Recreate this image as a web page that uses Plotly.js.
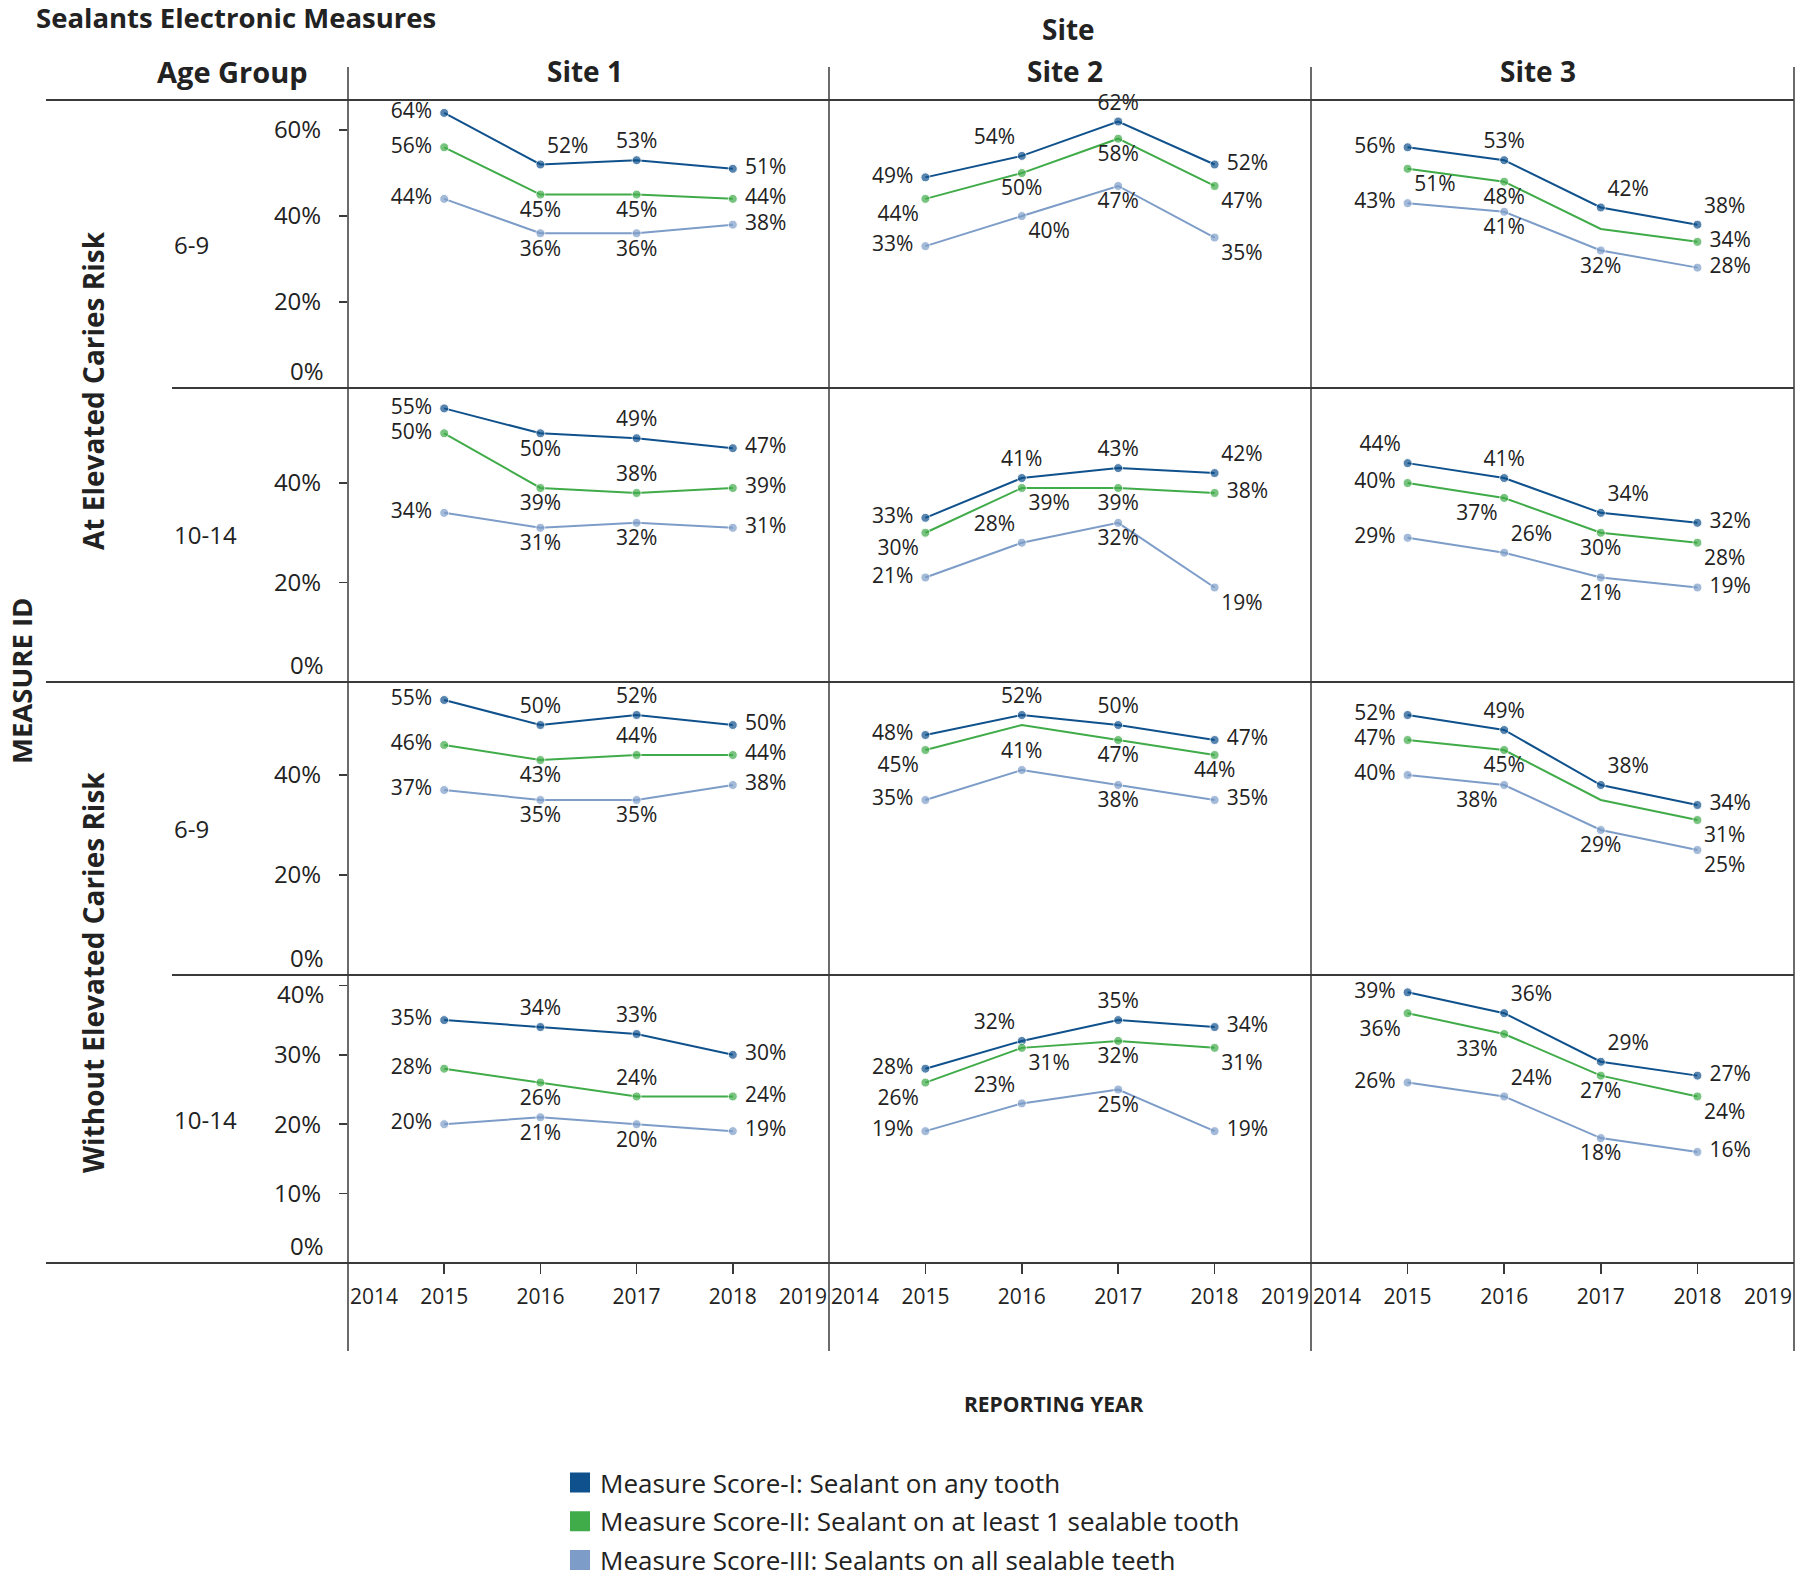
<!DOCTYPE html>
<html>
<head>
<meta charset="utf-8">
<script src="https://cdn.plot.ly/plotly-3.0.1.min.js"></script>
<style>html,body{margin:0;padding:0;background:#fff;overflow:hidden;}</style>
</head>
<body>
<div id="chart" style="width:1800px;height:1578px;"></div>
<script>
// ---------------- DATA ----------------
const years = [2015, 2016, 2017, 2018];
const edgeYears = [2014, 2019];
const sites = ['Site 1', 'Site 2', 'Site 3'];
const riskGroups = ['At Elevated Caries Risk', 'Without Elevated Caries Risk'];
const ageGroups = ['6-9', '10-14'];
const scoreNames = [
  'Measure Score-I: Sealant on any tooth',
  'Measure Score-II: Sealant on at least 1 sealable tooth',
  'Measure Score-III: Sealants on all sealable teeth'
];

// each array: [Site 1, Site 2, Site 3], values per year 2015..2018 (percent)
const scoreI_elev_6_9     = [[64, 52, 53, 51], [49, 54, 62, 52], [56, 53, 42, 38]];
const scoreII_elev_6_9    = [[56, 45, 45, 44], [44, 50, 58, 47], [51, 48, 37, 34]];
const scoreIII_elev_6_9   = [[44, 36, 36, 38], [33, 40, 47, 35], [43, 41, 32, 28]];

const scoreI_elev_10_14   = [[55, 50, 49, 47], [33, 41, 43, 42], [44, 41, 34, 32]];
const scoreII_elev_10_14  = [[50, 39, 38, 39], [30, 39, 39, 38], [40, 37, 30, 28]];
const scoreIII_elev_10_14 = [[34, 31, 32, 31], [21, 28, 32, 19], [29, 26, 21, 19]];

const scoreI_noelev_6_9     = [[55, 50, 52, 50], [48, 52, 50, 47], [52, 49, 38, 34]];
const scoreII_noelev_6_9    = [[46, 43, 44, 44], [45, 50, 47, 44], [47, 45, 35, 31]];
const scoreIII_noelev_6_9   = [[37, 35, 35, 38], [35, 41, 38, 35], [40, 38, 29, 25]];

const scoreI_noelev_10_14   = [[35, 34, 33, 30], [28, 32, 35, 34], [39, 36, 29, 27]];
const scoreII_noelev_10_14  = [[28, 26, 24, 24], [26, 31, 32, 31], [36, 33, 27, 24]];
const scoreIII_noelev_10_14 = [[20, 21, 20, 19], [19, 23, 25, 19], [26, 24, 18, 16]];

const yTickValues = [[20, 40, 60], [20, 40], [20, 40], [10, 20, 30, 40]];

// ---------------- PRESENTATION ----------------
const panelRows = [
  [scoreI_elev_6_9, scoreII_elev_6_9, scoreIII_elev_6_9],
  [scoreI_elev_10_14, scoreII_elev_10_14, scoreIII_elev_10_14],
  [scoreI_noelev_6_9, scoreII_noelev_6_9, scoreIII_noelev_6_9],
  [scoreI_noelev_10_14, scoreII_noelev_10_14, scoreIII_noelev_10_14]
];
// label placement per row -> site -> score -> year ('-' = no label / no marker)
const labelPos = [
  [
    [['L','TR','T','R'], ['L','B','B','R'], ['L','B','B','R']],
    [['L','TL','T','R'], ['BL','B','B','BR'], ['L','BR','B','BR']],
    [['L','T','TR','TR'], ['BR','B','-','R'], ['L','B','B','R']]
  ],
  [
    [['L','B','T','R'], ['L','B','T','R'], ['L','B','B','R']],
    [['L','T','T','TR'], ['BL','BR','B','R'], ['L','TL','B','BR']],
    [['TL','T','TR','R'], ['L','BL','B','BR'], ['L','TR','B','R']]
  ],
  [
    [['L','T','T','R'], ['L','B','T','R'], ['L','B','B','R']],
    [['L','T','T','R'], ['BL','-','B','B'], ['L','T','B','R']],
    [['L','T','TR','R'], ['L','B','-','BR'], ['L','BL','B','BR']]
  ],
  [
    [['L','T','T','R'], ['L','B','T','R'], ['L','B','B','R']],
    [['L','TL','T','R'], ['BL','BR','B','BR'], ['L','TL','B','R']],
    [['L','TR','TR','R'], ['BL','BL','B','BR'], ['L','TR','B','R']]
  ]
];
const posMap = {L:'middle left', R:'middle right', T:'top center', B:'bottom center',
  TL:'top left', TR:'top right', BL:'bottom left', BR:'bottom right', '-':'middle center'};

const colors = ['#0f518c', '#40ab49', '#7d9dc8'];
const FONT = 'Open Sans, Noto Sans, sans-serif';
const TXT = '#222222';
const LINEC = '#3a3a3a';

const W = 1800, H = 1578;
const colEdges = [348, 829, 1311, 1794];
const rowEdges = [100, 388, 682, 975, 1263];
const yMax = [67, 59.1, 58.6, 41.5];
// the top tick label of the last row sits at the panel edge: it is drawn nudged inward
const edgeTickRow = 3;
const edgeTickValue = 40;
const fx = x => x / W;
const fy = y => 1 - y / H;
const sfx = i => (i === 1 ? '' : String(i));

const traces = [];
const layout = {
  width: W, height: H,
  margin: {l: 0, r: 0, t: 0, b: 0, pad: 0, autoexpand: false},
  paper_bgcolor: '#ffffff', plot_bgcolor: 'rgba(0,0,0,0)',
  font: {family: FONT, color: TXT, size: 21},
  showlegend: true,
  legend: {
    x: fx(560), xanchor: 'left', y: fy(1459), yanchor: 'top',
    font: {family: FONT, size: 26, color: TXT},
    traceorder: 'grouped', tracegroupgap: 2,
    bgcolor: 'rgba(0,0,0,0)', itemclick: false, itemdoubleclick: false
  },
  annotations: [],
  shapes: []
};

for (let r = 0; r < 4; r++) {
  for (let c = 0; c < 3; c++) {
    const idx = r * 3 + c + 1;
    const s = sfx(idx);
    layout['xaxis' + s] = {
      domain: [fx(colEdges[c]), fx(colEdges[c + 1])],
      range: [edgeYears[0], edgeYears[1]],
      anchor: 'y' + s,
      showgrid: false, zeroline: false, showline: false,
      tickmode: 'array', tickvals: years, ticktext: years.map(String),
      ticks: r === 3 ? 'outside' : '', ticklen: 10, tickwidth: 1.5, tickcolor: LINEC,
      showticklabels: r === 3,
      tickfont: {family: FONT, size: 21, color: TXT},
      ticklabelstandoff: 5,
      automargin: false,
      fixedrange: true
    };
    layout['yaxis' + s] = {
      domain: [fy(rowEdges[r + 1]), fy(rowEdges[r])],
      range: [0, yMax[r]],
      anchor: 'x' + s,
      showgrid: false, zeroline: false, showline: false,
      tickmode: 'array', tickvals: yTickValues[r],
      ticktext: yTickValues[r].map(v => (r === edgeTickRow && v === edgeTickValue) ? '' : v + '%'),
      ticks: c === 0 ? 'outside' : '', ticklen: 8, tickwidth: 1.5, tickcolor: LINEC,
      showticklabels: c === 0,
      tickfont: {family: FONT, size: 24, color: TXT},
      ticklabelstandoff: 13,
      automargin: false,
      fixedrange: true
    };

    for (let k = 0; k < 3; k++) {
      const vals = panelRows[r][k][c];
      const pos = labelPos[r][c][k];
      const text = vals.map((v, i) => {
        if (pos[i] === '-') return '';
        const t = v + '%';
        if (pos[i] === 'L') return t + '\u00a0';
        if (pos[i] === 'R') return '\u00a0' + t;
        return t;
      });
      traces.push({
        type: 'scatter',
        mode: 'lines+markers+text',
        x: years,
        y: vals,
        xaxis: 'x' + s, yaxis: 'y' + s,
        name: scoreNames[k],
        showlegend: false,
        line: {color: colors[k], width: 2},
        marker: {color: colors[k], size: vals.map((v, i) => pos[i] === '-' ? 0 : 9)},
        text: text,
        textposition: pos.map(p => posMap[p]),
        textfont: {family: FONT, size: 21, color: TXT},
        cliponaxis: false,
        hoverinfo: 'skip'
      });
    }

    if (c === 0) {
      layout.annotations.push({
        xref: 'x' + s + ' domain', x: 0, xanchor: 'right', xshift: -22,
        yref: 'y' + s, y: 0, yanchor: 'bottom', yshift: -1,
        text: '0%', showarrow: false,
        font: {family: FONT, size: 24, color: TXT}
      });
      if (r === edgeTickRow) {
        layout.annotations.push({
          xref: 'x' + s + ' domain', x: 0, xanchor: 'right', xshift: -22,
          yref: 'y' + s, y: edgeTickValue, yanchor: 'middle', yshift: -8,
          text: edgeTickValue + '%', showarrow: false,
          font: {family: FONT, size: 24, color: TXT}
        });
      }
    }
    if (r === 3) {
      layout.annotations.push({
        xref: 'x' + s, x: edgeYears[0], xanchor: 'left',
        yref: 'paper', y: fy(1296), yanchor: 'middle',
        text: String(edgeYears[0]), showarrow: false,
        font: {family: FONT, size: 21, color: TXT}
      });
      layout.annotations.push({
        xref: 'x' + s, x: edgeYears[1], xanchor: 'right',
        yref: 'paper', y: fy(1296), yanchor: 'middle',
        text: String(edgeYears[1]), showarrow: false,
        font: {family: FONT, size: 21, color: TXT}
      });
    }
  }
}

// legend entries (square swatches)
for (let k = 0; k < 3; k++) {
  traces.push({
    type: 'scatter', mode: 'markers',
    x: [null], y: [null], xaxis: 'x', yaxis: 'y',
    name: scoreNames[k], legendgroup: 'g' + k, showlegend: true,
    marker: {symbol: 'square', size: 16, color: colors[k], line: {color: colors[k], width: 4}},
    hoverinfo: 'skip'
  });
}

function ann(text, x, y, opts) {
  layout.annotations.push(Object.assign({
    xref: 'paper', yref: 'paper', x: fx(x), y: fy(y),
    xanchor: 'center', yanchor: 'middle', showarrow: false, text: text,
    font: {family: FONT, size: 28, color: TXT, weight: 700}
  }, opts || {}));
}

ann('Sealants Electronic Measures', 34, 18, {xanchor: 'left', font: {family: FONT, size: 27.5, color: TXT, weight: 700}});
ann('Site', 1068, 29);
ann('Age Group', 232, 71, {font: {family: FONT, size: 29, color: TXT, weight: 700}});
const siteX = [585, 1065, 1538];
sites.forEach((t, i) => ann(t, siteX[i], 71));
ann('MEASURE ID', 21, 681, {textangle: -90, font: {family: FONT, size: 27.5, color: TXT, weight: 700}});
ann(riskGroups[0], 93, 391, {textangle: -90});
ann(riskGroups[1], 93, 973, {textangle: -90});
const ageRows = [0, 1, 0, 1];
for (let r = 0; r < 4; r++) {
  ann(ageGroups[ageRows[r]], 172, (rowEdges[r] + rowEdges[r + 1]) / 2,
      {xanchor: 'left', font: {family: FONT, size: 24, color: TXT, weight: 400}});
}
ann('REPORTING YEAR', 1054, 1404, {font: {family: FONT, size: 21, color: TXT, weight: 700}});

// table grid lines
const hLines = [[100, 46], [388, 172], [682, 46], [975, 172], [1263, 46]];
hLines.forEach(([y, x0]) => layout.shapes.push({
  type: 'line', xref: 'paper', yref: 'paper', x0: fx(x0), x1: fx(1794), y0: fy(y), y1: fy(y),
  line: {color: LINEC, width: 2}
}));
colEdges.forEach(x => layout.shapes.push({
  type: 'line', xref: 'paper', yref: 'paper', x0: fx(x), x1: fx(x), y0: fy(67), y1: fy(1351),
  line: {color: LINEC, width: 1.5}
}));

Plotly.newPlot('chart', traces, layout, {staticPlot: true, displayModeBar: false});
</script>
</body>
</html>
